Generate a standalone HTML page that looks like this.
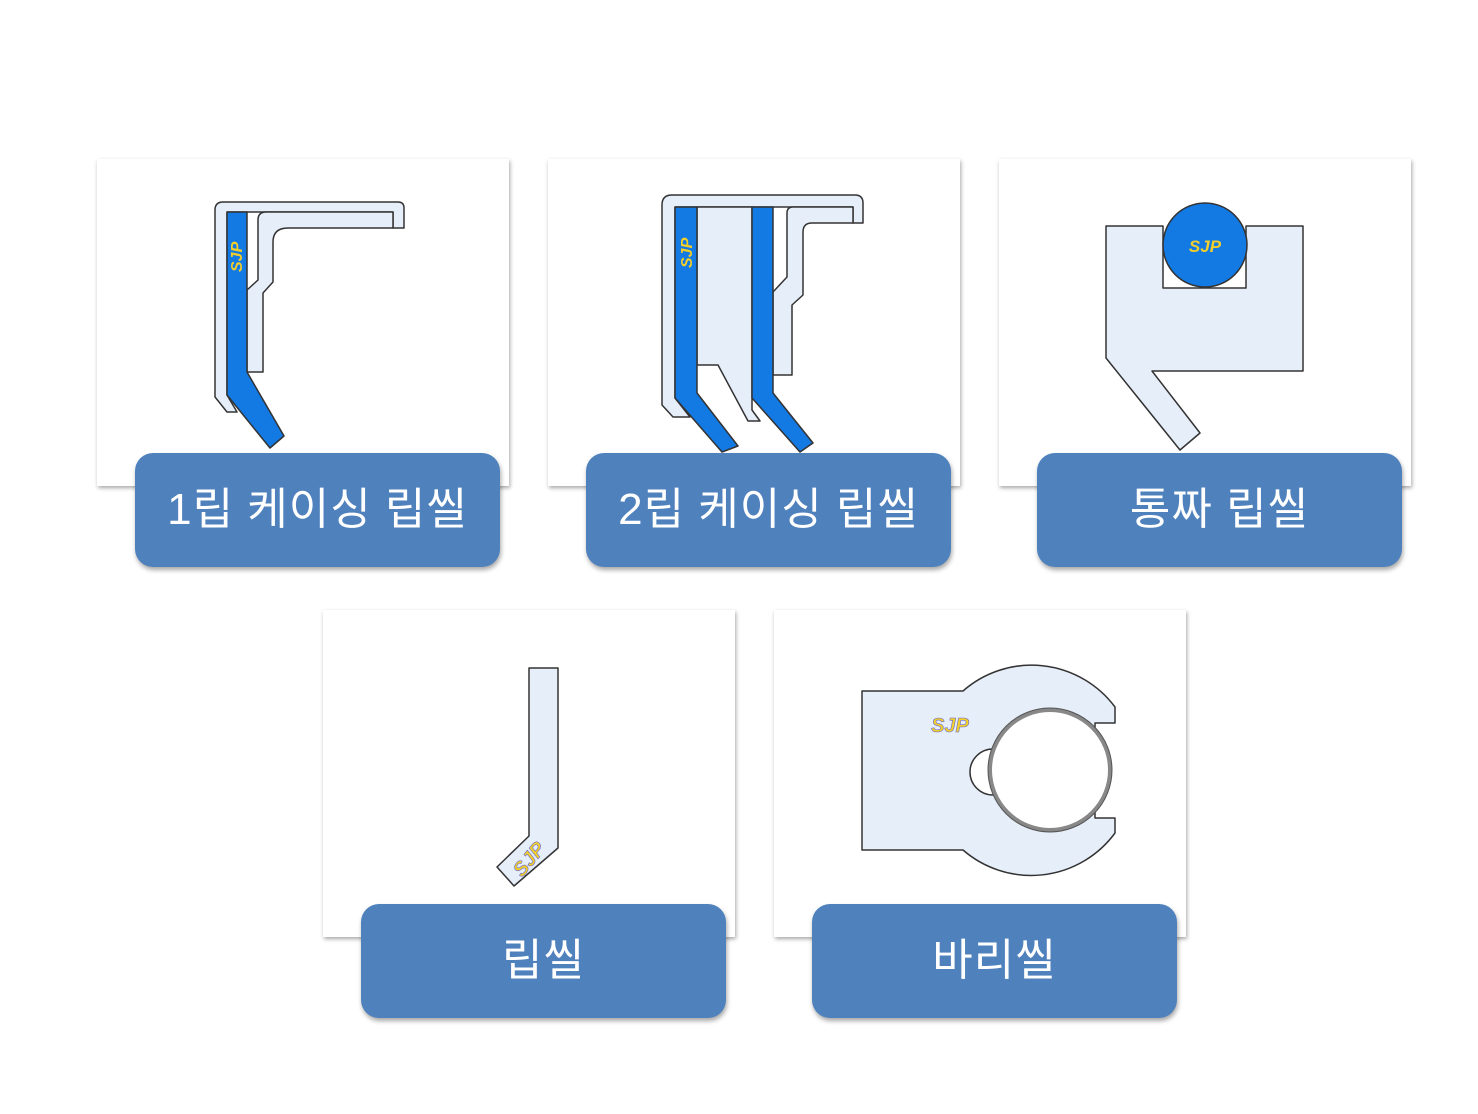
<!DOCTYPE html>
<html><head><meta charset="utf-8"><style>
html,body{margin:0;padding:0;background:#fff;}
body{width:1478px;height:1114px;position:relative;overflow:hidden;font-family:"Liberation Sans","Noto Sans CJK KR",sans-serif;}
.card{position:absolute;width:412px;height:327px;background:#fff;box-shadow:1px 2px 4px rgba(0,0,0,0.35);}
.lab{position:absolute;width:365px;height:114px;background:#4f81bd;border-radius:18px;box-shadow:1px 3px 5px rgba(0,0,0,0.35);color:#fff;font-size:44px;line-height:114px;text-align:center;letter-spacing:1px;}
svg{position:absolute;left:0;top:0;}
</style></head><body>
<div class="card" style="left:97px;top:159px"></div>
<div class="card" style="left:548px;top:159px"></div>
<div class="card" style="left:999px;top:159px"></div>
<div class="card" style="left:323px;top:610px"></div>
<div class="card" style="left:774px;top:610px"></div>
<svg width="1478" height="1114" viewBox="0 0 1478 1114" stroke="#333" stroke-width="1.5" stroke-linejoin="round">
<!-- seal 1 -->
<path fill="#e6eefa" d="M215,210 Q215,202 223,202 L398,202 Q404,202 404,208 L404,228 L393,228 L393,212 L227,212 L227,395 L237,412 L227,412 L215,397 Z"/>
<path fill="#e6eefa" d="M247,290 L258,280 L258,220 Q258,212 266,212 L393,212 L393,228 L288,228 Q273,228 273,242 L273,282 L263,293 L263,372 L247,372 Z"/>
<path fill="#1379e3" d="M227,212 L247,212 L247,372 L284,436 L270,448 L227,395 Z"/>
<text x="0" y="0" transform="translate(242,272) rotate(-90)" fill="#f2cf2a" stroke="none" font-size="16" font-style="italic" font-weight="bold">SJP</text>
<!-- seal 2 -->
<path fill="#e6eefa" d="M662,205 Q662,195 672,195 L855,195 Q863,195 863,203 L863,223 L853,223 L853,207 L675,207 L675,398 L690,417 L673,417 L662,405 Z"/>
<path fill="#e6eefa" d="M697,207 L752,207 L752,410 L760,421 L748,421 L718,365 L697,365 Z"/>
<path fill="#e6eefa" d="M773,292 L787,277 L787,213 Q787,207 793,207 L853,207 L853,223 L812,223 Q803,223 803,232 L803,295 L792,305 L792,375 L773,375 Z"/>
<path fill="#1379e3" d="M675,207 L697,207 L697,393 L738,446 L722,452 L675,398 Z"/>
<path fill="#1379e3" d="M752,207 L773,207 L773,393 L813,443 L800,452 L752,398 Z"/>
<text transform="translate(692,268) rotate(-90)" fill="#f2cf2a" stroke="none" font-size="16" font-style="italic" font-weight="bold">SJP</text>
<!-- seal 3 -->
<path fill="#e6eefa" d="M1106,226 L1163,226 L1163,288 L1246,288 L1246,226 L1303,226 L1303,371 L1152,371 L1200,433 L1180,450 L1106,358 Z"/>
<circle cx="1205" cy="245" r="42" fill="#1379e3"/>
<text x="1205" y="252" text-anchor="middle" fill="#f2cf2a" stroke="none" font-size="17" font-style="italic" font-weight="bold">SJP</text>
<!-- seal 4 -->
<path fill="#e6eefa" d="M529,668 L558,668 L558,848 L514,886 L497,867 L529,836 Z"/>
<text transform="translate(522,878) rotate(-50)" fill="#f2cf2a" stroke="#6a6ad0" stroke-width="0.6" font-size="20" font-style="italic" font-weight="bold">SJP</text>
<!-- seal 5 -->
<path fill="#e6eefa" d="M862,691 L963,691 A104,104 0 0 1 1115,707 L1115,723 L1095,723 L1095,818 L1115,818 L1115,833 A104,104 0 0 1 963,850 L862,850 Z"/>
<circle cx="993" cy="772" r="23" fill="#fff"/>
<circle cx="1050" cy="770" r="60" fill="#fff" stroke="#888" stroke-width="4"/>
<circle cx="1050" cy="770" r="62" fill="none" stroke="#555" stroke-width="1"/>
<text x="950" y="732" text-anchor="middle" fill="#f2cf2a" stroke="#6a6ad0" stroke-width="0.6" font-size="20" font-style="italic" font-weight="bold">SJP</text>
</svg>
<div class="lab" style="left:135px;top:453px">1립 케이싱 립씰</div>
<div class="lab" style="left:586px;top:453px">2립 케이싱 립씰</div>
<div class="lab" style="left:1037px;top:453px">통짜 립씰</div>
<div class="lab" style="left:361px;top:904px">립씰</div>
<div class="lab" style="left:812px;top:904px">바리씰</div>
</body></html>
